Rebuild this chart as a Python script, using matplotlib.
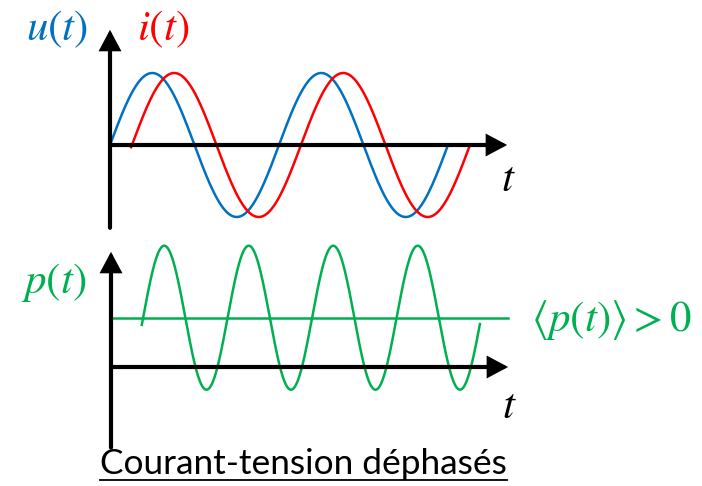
import numpy as np
import matplotlib.pyplot as plt

plt.rcParams['mathtext.fontset'] = 'stix'

W, H = 702, 486

# signals, time measured in periods of u(t)
lag = 0.13                # i(t) lags u(t) by this fraction of a period
t_u = (0.0, 2.0)          # where the blue curve is drawn
t_i = (0.125, 2.13)       # red curve
t_p = (0.182, 2.183)      # green curve

labels_top = ['$u(t)$', '$i(t)$']
label_p = '$p(t)$'
label_mean = r'$\langle p(t)\rangle > 0$'
caption = 'Courant-tension déphasés'

blue = '#0070C0'
red = '#FF0000'
green = '#00B050'


def u(t):
    return np.sin(2 * np.pi * t)


def i(t):
    return np.sin(2 * np.pi * (t - lag))


tu = np.linspace(*t_u, 400)
ti = np.linspace(*t_i, 400)
tp = np.linspace(*t_p, 800)
p = u(tp) * i(tp)
p_mean = 0.5 * np.cos(2 * np.pi * lag)   # average of u*i over a period

fig = plt.figure(figsize=(W / 100, H / 100), dpi=100)


def px(x, y):
    # pixel (from top-left) -> figure fraction
    return x / W, 1 - y / H


def place(ax, x0, px_per_t, y0, px_per_unit):
    # origin of the drawing at pixel (x0, y0)
    ax.set_xlim(-x0 / px_per_t, (W - x0) / px_per_t)
    ax.set_ylim((y0 - H) / px_per_unit, y0 / px_per_unit)
    ax.axis('off')
    ax.patch.set_visible(False)


def arrow(ax, start, end):
    ax.annotate('', xy=end, xytext=start,
                arrowprops=dict(arrowstyle='-|>,head_length=0.6,head_width=0.32',
                                lw=3, color='k', mutation_scale=18,
                                shrinkA=0, shrinkB=0, joinstyle='miter'))


# top: u(t) and i(t)
ax1 = fig.add_axes([0, 0, 1, 1])
place(ax1, 110, 169, 145, 72)
arrow(ax1, (0, -1.15), (0, 1.6))
arrow(ax1, (0, 0), (2.35, 0))
ax1.plot(tu, u(tu), color=blue, lw=1.8)
ax1.plot(ti, i(ti), color=red, lw=1.8)

# bottom: p(t) = u(t) i(t)
ax2 = fig.add_axes([0, 0, 1, 1])
place(ax2, 111, 169, 367, 144)
arrow(ax2, (0, -0.56), (0, 0.8))
arrow(ax2, (0, 0), (2.35, 0))
ax2.plot([0.01, 2.35], [p_mean, p_mean], color=green, lw=1.8)
ax2.plot(tp, p, color=green, lw=1.8)

fs = 31
fig.text(*px(57, 29), labels_top[0], color=blue, fontsize=fs, ha='center', va='center')
fig.text(*px(163, 29), labels_top[1], color=red, fontsize=fs, ha='center', va='center')
fig.text(*px(508, 179), '$t$', color='k', fontsize=fs, ha='center', va='center')
fig.text(*px(54, 282), label_p, color=green, fontsize=fs, ha='center', va='center')
fig.text(*px(611, 320), label_mean, color=green, fontsize=fs, ha='center', va='center')
fig.text(*px(509, 406), '$t$', color='k', fontsize=fs, ha='center', va='center')

cap = fig.text(*px(100, 474), caption, fontsize=20, family='Lato',
               ha='left', va='baseline')
fig.canvas.draw()
bb = cap.get_window_extent()
cap.set_fontsize(20 * 408 / bb.width)
fig.canvas.draw()
bb = cap.get_window_extent()
x0, x1 = bb.x0 / W, bb.x1 / W
fig.add_artist(plt.Line2D([x0, x1], [1 - 480 / H] * 2, color='k', lw=1.3))

fig.savefig('out.png', dpi=100)
